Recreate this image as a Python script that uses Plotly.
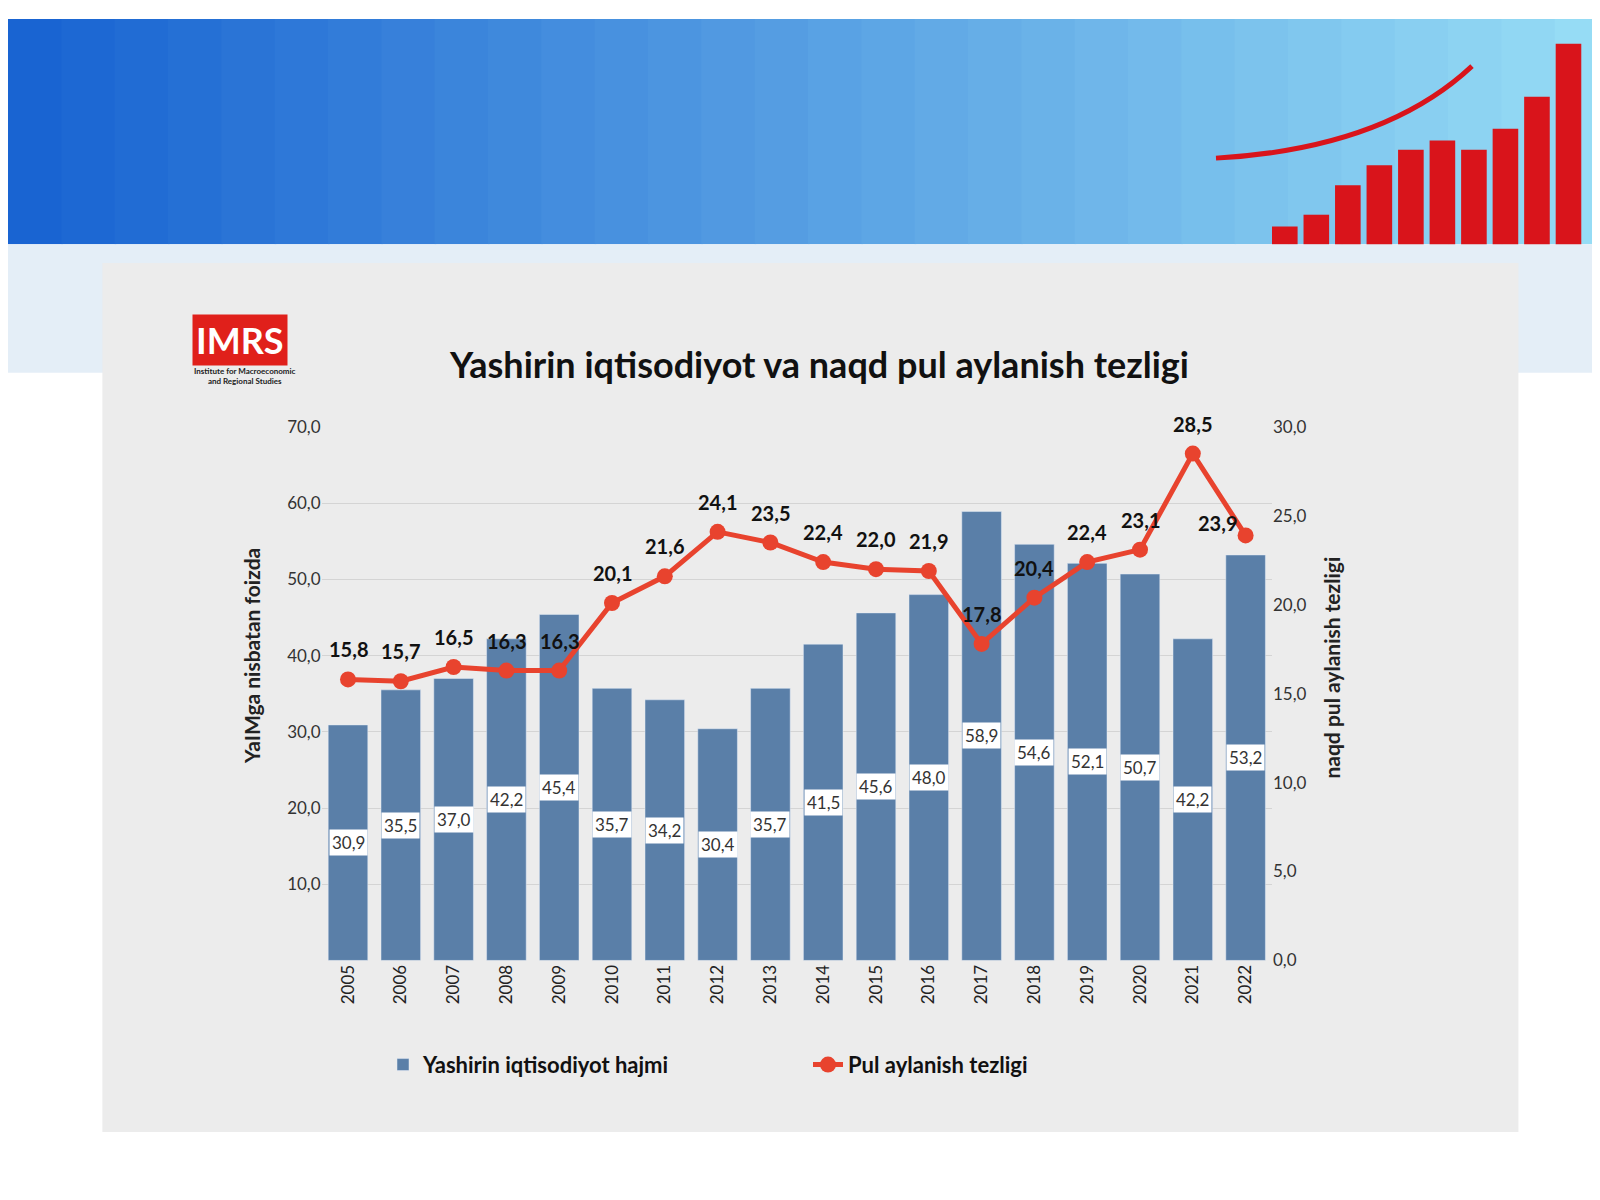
import plotly.graph_objects as go

years = [str(y) for y in range(2005, 2023)]
shadow = [30.9,35.5,37.0,42.2,45.4,35.7,34.2,30.4,35.7,41.5,45.6,48.0,58.9,54.6,52.1,50.7,42.2,53.2]
velocity = [15.8,15.7,16.5,16.3,16.3,20.1,21.6,24.1,23.5,22.4,22.0,21.9,17.8,20.4,22.4,23.1,28.5,23.9]
left_ticks = [10,20,30,40,50,60,70]
right_ticks = [0,5,10,15,20,25,30]

def fmt(v):
    return f"{v:.1f}".replace(".", ",")

idx = list(range(len(years)))
FONT = "Lato"
fig = go.Figure()
fig.add_trace(go.Bar(x=idx, y=shadow, name="<b>Yashirin iqtisodiyot hajmi</b>",
                     marker_color="#5a7fa8", width=0.75))
fig.add_trace(go.Scatter(x=idx, y=velocity, yaxis="y2", name="<b>Pul aylanish tezligi</b>",
                         mode="lines+markers", line=dict(color="#e8432e", width=5),
                         marker=dict(size=16, color="#e8432e")))

anns = []
for i, v in zip(idx, shadow):
    anns.append(dict(x=i, y=v/2, text=fmt(v), showarrow=False, bgcolor="white",
                     font=dict(size=17, color="#333", family=FONT), borderpad=2))
for i, v in zip(idx, velocity):
    last = i == idx[-1]
    anns.append(dict(x=i, y=v, yref="y2", text=f"<b>{fmt(v)}</b>", showarrow=False,
                     yshift=12 if last else 30, xshift=-28 if last else 0,
                     font=dict(size=20, color="#111", family=FONT)))
anns += [
    dict(x=0.507, y=0.728, xref="paper", yref="paper", showarrow=False,
         text="<b>Yashirin iqtisodiyot va naqd pul aylanish tezligi</b>",
         font=dict(size=36, color="#111", family=FONT)),
    dict(x=0.115, y=0.75, xref="paper", yref="paper", showarrow=False,
         text="<b>IMRS</b>", bgcolor="#e0201b", font=dict(size=36, color="white", family=FONT), borderpad=3),
    dict(x=0.115, y=0.707, xref="paper", yref="paper", showarrow=False,
         text="<b>Institute for Macroeconomic<br>and Regional Studies</b>",
         font=dict(size=8, color="#222", family=FONT)),
    dict(x=0.143, y=0.46, xref="paper", yref="paper", showarrow=False, textangle=-90,
         text="<b>YaIMga nisbatan foizda</b>", font=dict(size=21, color="#222", family=FONT)),
    dict(x=0.836, y=0.45, xref="paper", yref="paper", showarrow=False, textangle=-90,
         text="<b>naqd pul aylanish tezligi</b>", font=dict(size=21, color="#222", family=FONT)),
]

shapes = []
n = 30
for i in range(n):
    t = i / (n - 1)
    r = int(25 + t * (150 - 25)); g = int(100 + t * (220 - 100)); b = int(210 + t * (245 - 210))
    shapes.append(dict(type="rect", xref="paper", yref="paper", x0=i/n, x1=(i+1)/n + 0.001,
                       y0=0.809, y1=1, fillcolor=f"rgb({r},{g},{b})", line_width=0, layer="below"))
shapes.append(dict(type="rect", xref="paper", yref="paper", x0=0, x1=1, y0=0.70, y1=0.809,
                   fillcolor="#e4eef7", line_width=0, layer="below"))
heights = [0.015, 0.025, 0.05, 0.067, 0.08, 0.088, 0.08, 0.098, 0.125, 0.17]
for i, h in enumerate(heights):
    x0 = 0.79 + i*0.0197
    shapes.append(dict(type="rect", xref="paper", yref="paper", x0=x0, x1=x0+0.016,
                       y0=0.809, y1=0.809+h, fillcolor="#d9141b", line_width=0, layer="below"))
shapes.append(dict(type="path", xref="paper", yref="paper",
                   path="M 0.755 0.882 Q 0.86 0.89 0.915 0.96", line=dict(color="#d9141b", width=5),
                   layer="below"))
shapes.append(dict(type="rect", xref="paper", yref="paper", x0=0.059, x1=0.944, y0=0.056, y1=0.793,
                   fillcolor="#ececec", line_width=0, layer="below"))

fig.update_layout(
    width=1600, height=1200, margin=dict(l=0, r=0, t=0, b=0),
    paper_bgcolor="white", plot_bgcolor="rgba(0,0,0,0)",
    font=dict(family=FONT, color="#333"),
    xaxis=dict(domain=[0.196, 0.790], range=[-0.5, 17.5], tickvals=idx, ticktext=years,
               tickangle=-90, tickfont=dict(size=17, color="#222"), showgrid=False, zeroline=False),
    yaxis=dict(domain=[0.2015, 0.654], range=[0, 70], tickvals=left_ticks,
               ticktext=[fmt(t) for t in left_ticks], gridcolor="#d4d4d4",
               tickfont=dict(size=17), zeroline=False),
    yaxis2=dict(overlaying="y", side="right", anchor="x", range=[0, 30], tickvals=right_ticks,
                ticktext=[fmt(t) for t in right_ticks], showgrid=False,
                tickfont=dict(size=17), zeroline=False),
    legend=dict(orientation="h", x=0.5, xanchor="center", y=0.113, yanchor="middle",
                font=dict(size=22, color="#111"), bgcolor="rgba(0,0,0,0)",
                entrywidth=380),
    annotations=anns, shapes=shapes, showlegend=True,
)
fig.write_html("out.html")
